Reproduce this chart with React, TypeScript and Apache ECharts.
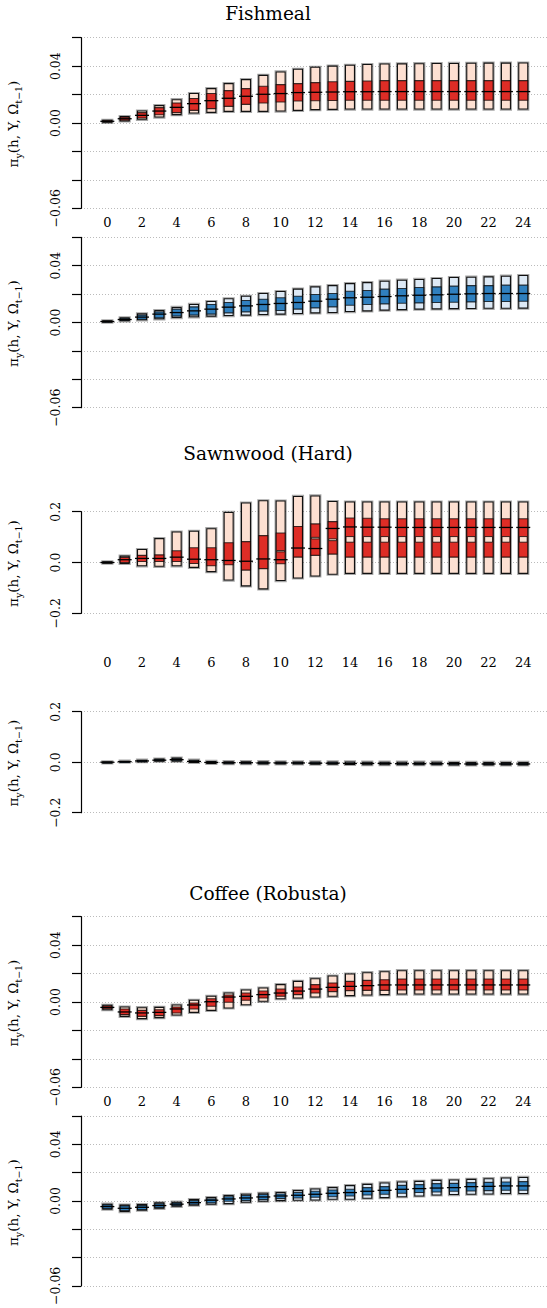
import React, { useEffect, useRef } from "react";
import * as echarts from "echarts";

// ---------- data ----------
const horizons = [0, 1, 2, 3, 4, 5, 6, 7, 8, 9, 10, 11, 12, 13, 14, 15, 16, 17, 18, 19, 20, 21, 22, 23, 24];
const xTickLabels = [0, 2, 4, 6, 8, 10, 12, 14, 16, 18, 20, 22, 24];
const panelTitles = ["Fishmeal", "Sawnwood (Hard)", "Coffee (Robusta)"];

// Fishmeal (red)
const fishRedLo = [0.0005, 0.0014, 0.0026, 0.0042, 0.0059, 0.007, 0.0075, 0.0082, 0.0082, 0.0082, 0.0084, 0.0089, 0.0094, 0.0096, 0.0098, 0.0098, 0.0098, 0.0098, 0.0098, 0.0098, 0.0098, 0.0098, 0.0098, 0.0098, 0.0098];
const fishRedQ25 = [0.0008, 0.002, 0.0035, 0.0058, 0.0073, 0.0089, 0.0101, 0.0117, 0.0131, 0.0141, 0.0148, 0.0155, 0.0157, 0.0158, 0.016, 0.016, 0.016, 0.016, 0.016, 0.016, 0.016, 0.016, 0.016, 0.016, 0.016];
const fishRedMed = [0.0012, 0.003, 0.0054, 0.0084, 0.011, 0.0136, 0.0157, 0.0174, 0.0188, 0.0202, 0.0207, 0.0214, 0.0216, 0.0218, 0.022, 0.022, 0.0221, 0.0221, 0.0221, 0.0221, 0.0221, 0.0221, 0.0221, 0.0221, 0.0221];
const fishRedQ75 = [0.0015, 0.004, 0.0073, 0.0108, 0.0141, 0.0172, 0.0207, 0.0228, 0.0242, 0.0258, 0.027, 0.0277, 0.0284, 0.029, 0.0293, 0.0295, 0.0298, 0.0298, 0.0298, 0.0298, 0.0298, 0.0298, 0.0298, 0.0298, 0.0298];
const fishRedHi = [0.0019, 0.0045, 0.0084, 0.0122, 0.0164, 0.0207, 0.0242, 0.0277, 0.0305, 0.0335, 0.0359, 0.0378, 0.0392, 0.04, 0.0406, 0.0411, 0.0415, 0.0416, 0.0417, 0.0418, 0.0419, 0.042, 0.0421, 0.0421, 0.0422];

// Fishmeal (blue)
const fishBlueLo = [0.0002, 0.0012, 0.0019, 0.0026, 0.0035, 0.004, 0.0045, 0.0049, 0.0052, 0.0056, 0.0059, 0.0063, 0.0068, 0.007, 0.0077, 0.0082, 0.0087, 0.0091, 0.0094, 0.0096, 0.0098, 0.0099, 0.01, 0.01, 0.0101];
const fishBlueQ25 = [0.0004, 0.0015, 0.0023, 0.0033, 0.0045, 0.0052, 0.0059, 0.0068, 0.0075, 0.008, 0.0084, 0.0094, 0.0103, 0.011, 0.0122, 0.0127, 0.0131, 0.0136, 0.0138, 0.0141, 0.0143, 0.0145, 0.0148, 0.0148, 0.015];
const fishBlueMed = [0.0007, 0.0021, 0.0038, 0.0059, 0.007, 0.0082, 0.0094, 0.0108, 0.0117, 0.0127, 0.0134, 0.0141, 0.015, 0.0164, 0.0174, 0.0178, 0.0183, 0.0188, 0.0192, 0.0195, 0.0199, 0.0202, 0.0204, 0.0204, 0.0204];
const fishBlueQ75 = [0.001, 0.0028, 0.0052, 0.0075, 0.0094, 0.011, 0.0127, 0.0141, 0.0155, 0.0164, 0.0174, 0.0185, 0.0197, 0.0204, 0.022, 0.0225, 0.0235, 0.0239, 0.0246, 0.0251, 0.0256, 0.026, 0.026, 0.0263, 0.0263];
const fishBlueHi = [0.0012, 0.0033, 0.0061, 0.0084, 0.0106, 0.0127, 0.0148, 0.0167, 0.0185, 0.0204, 0.0218, 0.0235, 0.0251, 0.026, 0.0274, 0.0281, 0.0291, 0.0298, 0.0303, 0.031, 0.0317, 0.0319, 0.0321, 0.0326, 0.0331];

// Sawnwood (Hard) (red)
const sawRedLo = [-0.003, -0.004, -0.013, -0.015, -0.013, -0.019, -0.036, -0.069, -0.092, -0.104, -0.071, -0.061, -0.053, -0.046, -0.043, -0.043, -0.043, -0.043, -0.043, -0.043, -0.043, -0.043, -0.043, -0.043, -0.043];
const sawRedQ25 = [-0.001, 0.0, 0.004, 0.004, 0.004, -0.004, -0.013, -0.009, -0.03, -0.024, -0.005, 0.021, 0.028, 0.033, 0.021, 0.021, 0.021, 0.021, 0.021, 0.021, 0.021, 0.021, 0.021, 0.021, 0.021];
const sawRedMed = [0.0, 0.011, 0.016, 0.016, 0.021, 0.013, 0.011, 0.008, 0.005, 0.014, 0.011, 0.057, 0.055, 0.134, 0.14, 0.139, 0.139, 0.138, 0.138, 0.138, 0.138, 0.138, 0.138, 0.138, 0.138];
const sawRedQ75 = [0.002, 0.02, 0.028, 0.03, 0.046, 0.058, 0.058, 0.078, 0.082, 0.106, 0.116, 0.142, 0.152, 0.161, 0.175, 0.174, 0.172, 0.172, 0.172, 0.172, 0.172, 0.172, 0.172, 0.172, 0.172];
const sawRedHi = [0.003, 0.025, 0.051, 0.094, 0.12, 0.123, 0.133, 0.197, 0.234, 0.243, 0.242, 0.26, 0.262, 0.24, 0.238, 0.238, 0.238, 0.238, 0.238, 0.238, 0.238, 0.238, 0.238, 0.238, 0.238];
const sawRedGapLo = [null, null, null, null, null, null, null, null, null, null, 0.042, null, 0.093, 0.086, 0.08, 0.08, 0.08, 0.08, 0.08, 0.08, 0.08, 0.08, 0.08, 0.08, 0.08];
const sawRedGapHi = [null, null, null, null, null, null, null, null, null, null, 0.047, null, 0.099, 0.093, 0.102, 0.102, 0.102, 0.102, 0.102, 0.102, 0.102, 0.102, 0.102, 0.102, 0.102];

// Sawnwood (Hard) (blue)
const sawBlueLo = [-0.001, 0.0, 0.002, 0.004, 0.004, -0.001, -0.005, -0.006, -0.006, -0.007, -0.007, -0.007, -0.008, -0.008, -0.009, -0.01, -0.01, -0.01, -0.01, -0.01, -0.011, -0.011, -0.011, -0.011, -0.011];
const sawBlueQ25 = [-0.0005, 0.001, 0.003, 0.006, 0.007, 0.001, -0.003, -0.004, -0.004, -0.005, -0.005, -0.005, -0.006, -0.006, -0.007, -0.007, -0.007, -0.008, -0.008, -0.008, -0.008, -0.009, -0.009, -0.009, -0.009];
const sawBlueMed = [0.0, 0.002, 0.005, 0.008, 0.01, 0.003, -0.001, -0.002, -0.002, -0.003, -0.003, -0.003, -0.004, -0.004, -0.005, -0.005, -0.005, -0.006, -0.006, -0.006, -0.006, -0.007, -0.007, -0.007, -0.007];
const sawBlueQ75 = [0.0005, 0.003, 0.006, 0.01, 0.013, 0.005, 0.001, 0.0, 0.0, -0.001, -0.001, -0.001, -0.002, -0.002, -0.003, -0.003, -0.003, -0.004, -0.004, -0.004, -0.004, -0.005, -0.005, -0.005, -0.005];
const sawBlueHi = [0.001, 0.004, 0.008, 0.012, 0.016, 0.008, 0.003, 0.002, 0.002, 0.002, 0.001, 0.001, 0.001, 0.001, 0.001, 0.0, 0.0, 0.0, 0.0, 0.0, -0.001, -0.001, -0.001, -0.001, -0.001];

// Coffee (Robusta) (red)
const cofRedLo = [-0.0054, -0.0101, -0.0117, -0.011, -0.0091, -0.0073, -0.0059, -0.0042, -0.0019, 0.0005, 0.0023, 0.0028, 0.0035, 0.004, 0.0045, 0.0049, 0.0052, 0.0056, 0.0056, 0.0056, 0.0056, 0.0056, 0.0056, 0.0056, 0.0056];
const cofRedQ25 = [-0.0048, -0.0089, -0.0101, -0.0096, -0.0077, -0.0049, -0.003, -0.0002, 0.0012, 0.0028, 0.004, 0.0052, 0.0063, 0.0073, 0.008, 0.0082, 0.0082, 0.0084, 0.0084, 0.0084, 0.0084, 0.0084, 0.0084, 0.0084, 0.0084];
const cofRedMed = [-0.0038, -0.007, -0.0077, -0.0073, -0.0049, -0.0021, 0.0002, 0.0035, 0.004, 0.0052, 0.0063, 0.0077, 0.0091, 0.0103, 0.011, 0.0115, 0.012, 0.012, 0.012, 0.012, 0.012, 0.012, 0.012, 0.012, 0.012];
const cofRedQ75 = [-0.0028, -0.0049, -0.0059, -0.0054, -0.0035, -0.0007, 0.0023, 0.0049, 0.0063, 0.0077, 0.0091, 0.0106, 0.0122, 0.0134, 0.0145, 0.0152, 0.0157, 0.0162, 0.0162, 0.0162, 0.0162, 0.0162, 0.0162, 0.0162, 0.0162];
const cofRedHi = [-0.0023, -0.0035, -0.004, -0.0038, -0.0021, 0.0012, 0.004, 0.0063, 0.0084, 0.0098, 0.0122, 0.0145, 0.0164, 0.0183, 0.0197, 0.0206, 0.0213, 0.022, 0.022, 0.022, 0.022, 0.022, 0.022, 0.022, 0.022];

// Coffee (Robusta) (blue)
const cofBlueLo = [-0.0059, -0.0075, -0.0066, -0.0052, -0.0038, -0.003, -0.0023, -0.0019, -0.0009, -0.0002, 0.0002, 0.0005, 0.0007, 0.0012, 0.0012, 0.0019, 0.0023, 0.003, 0.0035, 0.0042, 0.0045, 0.0047, 0.0049, 0.0052, 0.0052];
const cofBlueQ25 = [-0.0054, -0.0068, -0.0061, -0.0047, -0.0033, -0.0023, -0.0014, -0.0002, 0.0002, 0.0009, 0.0016, 0.0021, 0.0026, 0.003, 0.0035, 0.0042, 0.0047, 0.0054, 0.0059, 0.0063, 0.0068, 0.007, 0.0073, 0.0075, 0.0075];
const cofBlueMed = [-0.004, -0.0052, -0.0045, -0.0033, -0.0023, -0.0012, 0.0005, 0.0014, 0.0021, 0.0028, 0.0035, 0.004, 0.0047, 0.0054, 0.0059, 0.0068, 0.0075, 0.0082, 0.0087, 0.0091, 0.0094, 0.0101, 0.0103, 0.0106, 0.0106];
const cofBlueQ75 = [-0.0028, -0.0035, -0.0033, -0.0021, -0.0014, 0.0002, 0.0014, 0.003, 0.0038, 0.0045, 0.0049, 0.0059, 0.0068, 0.0077, 0.0082, 0.0094, 0.0101, 0.011, 0.0115, 0.0122, 0.0124, 0.0129, 0.0131, 0.0134, 0.0136];
const cofBlueHi = [-0.0023, -0.003, -0.0026, -0.0014, -0.0009, 0.0009, 0.0023, 0.0038, 0.0047, 0.0054, 0.0059, 0.0073, 0.0084, 0.0094, 0.0108, 0.0117, 0.0127, 0.0134, 0.0138, 0.0145, 0.0148, 0.0152, 0.0157, 0.0162, 0.0166];

// y-axis ticks
const smallTicks = { min: -0.06, max: 0.06, interval: 0.02, labels: [0.04, 0.0, -0.06], decimals: 2 };
const bigTicks = { min: -0.2, max: 0.2, interval: 0.2, labels: [0.2, 0.0, -0.2], decimals: 1 };

// ---------- styling ----------
const FONT = "DejaVu Serif";
const RED_LIGHT = "#fde0d2";
const RED_DARK = "#de2d26";
const BLUE_LIGHT = "#dde9f5";
const BLUE_DARK = "#3080bf";

type Panel = {
  top: number; bottom: number; ticks: typeof smallTicks; xLabels: boolean; xMargin: number;
  light: string; dark: string;
  lo: number[]; q25: number[]; med: number[]; q75: number[]; hi: number[];
  gapLo?: (number | null)[]; gapHi?: (number | null)[];
};

const panels: Panel[] = [
  { top: 37.7, bottom: 208.3, ticks: smallTicks, xLabels: true, xMargin: 7, light: RED_LIGHT, dark: RED_DARK,
    lo: fishRedLo, q25: fishRedQ25, med: fishRedMed, q75: fishRedQ75, hi: fishRedHi },
  { top: 237.3, bottom: 407.7, ticks: smallTicks, xLabels: false, xMargin: 7, light: BLUE_LIGHT, dark: BLUE_DARK,
    lo: fishBlueLo, q25: fishBlueQ25, med: fishBlueMed, q75: fishBlueQ75, hi: fishBlueHi },
  { top: 511.7, bottom: 613.3, ticks: bigTicks, xLabels: true, xMargin: 42, light: RED_LIGHT, dark: RED_DARK,
    lo: sawRedLo, q25: sawRedQ25, med: sawRedMed, q75: sawRedQ75, hi: sawRedHi, gapLo: sawRedGapLo, gapHi: sawRedGapHi },
  { top: 711.7, bottom: 812.7, ticks: bigTicks, xLabels: false, xMargin: 7, light: BLUE_LIGHT, dark: BLUE_DARK,
    lo: sawBlueLo, q25: sawBlueQ25, med: sawBlueMed, q75: sawBlueQ75, hi: sawBlueHi },
  { top: 916.7, bottom: 1087.3, ticks: smallTicks, xLabels: true, xMargin: 7.5, light: RED_LIGHT, dark: RED_DARK,
    lo: cofRedLo, q25: cofRedQ25, med: cofRedMed, q75: cofRedQ75, hi: cofRedHi },
  { top: 1116, bottom: 1287.3, ticks: smallTicks, xLabels: false, xMargin: 7, light: BLUE_LIGHT, dark: BLUE_DARK,
    lo: cofBlueLo, q25: cofBlueQ25, med: cofBlueMed, q75: cofBlueQ75, hi: cofBlueHi },
];

const titleY = [13.5, 453.5, 893];

function fmtTick(v: number, ticks: typeof smallTicks) {
  const hit = ticks.labels.find((t) => Math.abs(t - v) < 1e-9);
  if (hit === undefined) return "";
  const s = Math.abs(hit).toFixed(ticks.decimals);
  return hit < -1e-12 ? "\u2212" + s : s;
}

function makeRender(light: string, dark: string) {
  return (params: any, api: any) => {
    const h = api.value(0);
    const lo = api.value(1), q25 = api.value(2), med = api.value(3), q75 = api.value(4), hi = api.value(5);
    const gLo = api.value(6), gHi = api.value(7);
    const cx = api.coord([h, lo])[0];
    const yLo = api.coord([h, lo])[1];
    const yHi = api.coord([h, hi])[1];
    const y25 = api.coord([h, q25])[1];
    const y75 = api.coord([h, q75])[1];
    const yMed = api.coord([h, med])[1];
    const w = 9;
    const x0 = cx - w / 2;
    const children: any[] = [
      { type: "rect", shape: { x: x0 - 0.8, y: yHi - 0.8, width: w + 1.6, height: Math.max(yLo - yHi, 1) + 1.6 },
        style: { fill: "none", stroke: "rgba(0,0,0,0.35)", lineWidth: 1.6 } },
      { type: "rect", shape: { x: x0, y: yHi, width: w, height: Math.max(yLo - yHi, 1) },
        style: { fill: light, stroke: "#111", lineWidth: 1.1 } },
      { type: "rect", shape: { x: x0, y: y75, width: w, height: Math.max(y25 - y75, 1) },
        style: { fill: dark, stroke: "rgba(0,0,0,0.75)", lineWidth: 1.1 } },
    ];
    if (gLo != null && !isNaN(gLo) && gHi != null && !isNaN(gHi)) {
      const ygl = api.coord([h, gLo])[1];
      const ygh = api.coord([h, gHi])[1];
      children.push({ type: "rect", shape: { x: x0 + 0.6, y: ygh, width: w - 1.2, height: Math.max(ygl - ygh, 1) },
        style: { fill: light, stroke: "rgba(0,0,0,0.75)", lineWidth: 1 } });
    }
    children.push({ type: "line", shape: { x1: cx - 7, y1: yMed, x2: cx + 7, y2: yMed },
      style: { stroke: "#000", lineWidth: 1.3 } });
    return { type: "group", children };
  };
}

export default function App() {
  const ref = useRef<HTMLDivElement>(null);
  useEffect(() => {
    if (!ref.current) return;
    const chart = echarts.init(ref.current, null, { renderer: "svg" });
    const grids: any[] = [];
    const xAxes: any[] = [];
    const yAxes: any[] = [];
    const series: any[] = [];
    const graphics: any[] = [];

    panels.forEach((p, i) => {
      grids.push({ left: 81, width: 466, top: p.top, height: p.bottom - p.top });
      xAxes.push({
        type: "value", gridIndex: i, min: -1.52, max: 25.37,
        axisLine: { show: false, onZero: false }, axisTick: { show: false }, splitLine: { show: false },
        axisLabel: {
          show: p.xLabels, customValues: xTickLabels, margin: p.xMargin,
          fontFamily: FONT, fontSize: 13, color: "#000", lineHeight: 14,
          formatter: (v: number) => String(Math.round(v)),
        },
      });
      yAxes.push({
        type: "value", gridIndex: i, min: p.ticks.min, max: p.ticks.max, interval: p.ticks.interval,
        axisLine: { show: true, onZero: false, lineStyle: { color: "#000", width: 1.2 } },
        axisTick: { show: true, length: 9, lineStyle: { color: "#000", width: 1.2 } },
        splitLine: { show: true, lineStyle: { color: "#bbb", type: [1, 2], width: 1 } },
        axisLabel: {
          rotate: 90, margin: 19, fontFamily: FONT, fontSize: 12.5, color: "#000",
          formatter: (v: number) => fmtTick(v, p.ticks),
        },
      });
      const data = horizons.map((h, k) => [
        h, p.lo[k], p.q25[k], p.med[k], p.q75[k], p.hi[k],
        p.gapLo && p.gapLo[k] != null ? p.gapLo[k] : NaN,
        p.gapHi && p.gapHi[k] != null ? p.gapHi[k] : NaN,
      ]);
      series.push({
        type: "custom", xAxisIndex: i, yAxisIndex: i, clip: false,
        renderItem: makeRender(p.light, p.dark),
        encode: { x: 0, y: [1, 5] },
        data,
      });
      const cy = (p.top + p.bottom) / 2 + 1;
      graphics.push({
        type: "text", x: 13, y: cy, rotation: Math.PI / 2,
        style: {
          text: "{a|\u03c0}{s|y}{a|(h, Y, \u03a9}{s|t\u22121}{a|)}",
          align: "center", verticalAlign: "middle", fill: "#000",
          rich: {
            a: { fontFamily: FONT, fontSize: 13.5, lineHeight: 20, verticalAlign: "middle", fill: "#000" },
            s: { fontFamily: FONT, fontSize: 9.5, lineHeight: 10, verticalAlign: "bottom", fill: "#000" },
          },
        },
      });
    });

    panelTitles.forEach((t, i) => {
      graphics.push({
        type: "text", x: 268, y: titleY[i],
        style: { text: t, align: "center", verticalAlign: "middle", fontFamily: FONT, fontSize: 18.5, fill: "#000" },
      });
    });

    chart.setOption({
      animation: false,
      backgroundColor: "#fff",
      grid: grids,
      xAxis: xAxes,
      yAxis: yAxes,
      series,
      graphic: graphics,
    });
    return () => chart.dispose();
  }, []);
  return <div ref={ref} style={{ position: "absolute", left: 0, top: 0, width: 547, height: 1308 }} />;
}
